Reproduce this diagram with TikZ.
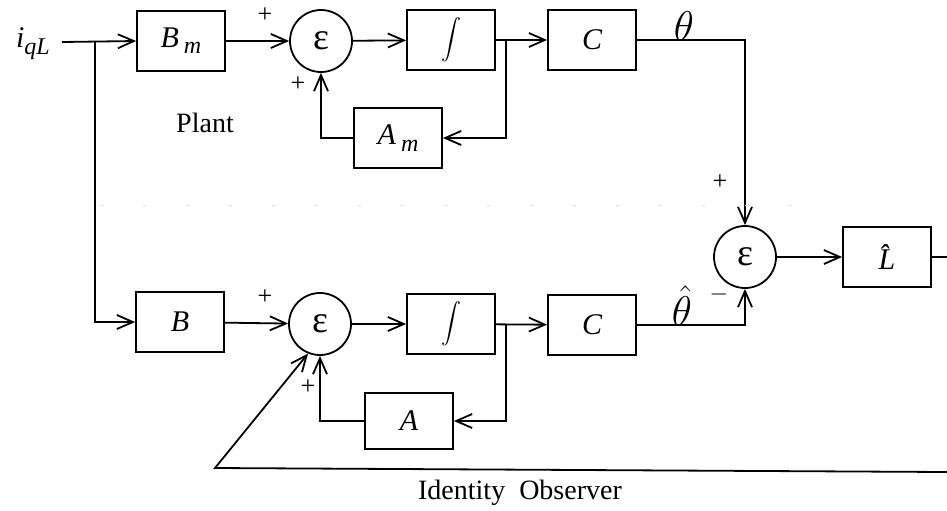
\documentclass[tikz,border=0pt]{standalone}
\usepackage{fontspec}
\setmainfont{Liberation Serif}
\usetikzlibrary{arrows.meta}

\tikzset{
	blk/.style={draw, line width=0.9pt, minimum width=44pt, minimum height=30pt, inner sep=0pt, font=\fontsize{15}{17}\selectfont\itshape},
	sumj/.style={draw, circle, line width=0.9pt, minimum size=31pt, inner sep=0pt, font=\fontsize{19}{19}\selectfont},
	sig/.style={line width=0.9pt, -{Straight Barb[length=8pt,width=7pt]}},
	wire/.style={line width=0.9pt},
	sgn/.style={inner sep=0pt, font=\fontsize{13}{13}\selectfont},
	lbl/.style={inner sep=0pt, font=\fontsize{14}{16}\selectfont}
}
\newcommand{\subm}[1]{#1\,\raisebox{-0.45ex}{\fontsize{12}{12}\selectfont m}}
\newcommand{\integ}{\raisebox{-0.3ex}{$\displaystyle\int$}}

\begin{document}
\begin{tikzpicture}[x=0.5pt,y=0.5pt,yscale=-1,xscale=1]
		\useasboundingbox (0,0) rectangle (947,510);

		% Plant (upper row)
		\node[inner sep=0pt, font=\fontsize{15}{17}\selectfont] (iql) at (33,44) {\textit{i}\raisebox{-0.5ex}{\fontsize{12}{12}\selectfont\itshape qL}};
		\node[blk] (Bm) at (181,41) {\subm{B}};
		\node[sumj] (sum1) at (321,41) {ε};
		\node[blk] (int1) at (451,40) {\integ};
		\node[blk] (C1) at (592,40) {C};
		\node[blk] (Am) at (398,138) {\subm{A}};
		\coordinate (inStart) at (62,42);
		\coordinate (split) at (95,42);
		\coordinate (br1) at (506,40);

		% Observer (lower row)
		\node[blk] (B) at (180,322) {B};
		\node[sumj] (sum2) at (320,324) {ε};
		\node[blk] (int2) at (451,324) {\integ};
		\node[blk] (C2) at (592,325) {C};
		\node[blk, minimum height=28pt] (A) at (409,421) {A};
		\coordinate (br2) at (506,324);

		% Error and gain
		\node[sumj] (sum3) at (745,257) {ε};
		\node[blk] (Lhat) at (887,257) {\^{L}};
		\coordinate (exitR) at (947,257);
		\coordinate (retR) at (947,472);
		\coordinate (corner) at (215,468);

		% Forward paths
		\draw[sig] (inStart) -- (Bm.west);
		\draw[sig] (split) |- (B.west);
		\draw[sig] (Bm) -- (sum1);
		\draw[sig] (sum1) -- (int1);
		\draw[sig] (int1) -- (C1);
		\draw[sig] (B) -- (sum2);
		\draw[sig] (sum2) -- (int2);
		\draw[sig] (int2) -- (C2);

		% Inner loops
		\draw[sig] (br1) |- (Am.east);
		\draw[sig] (Am.west) -| (sum1.south);
		\draw[sig] (br2) |- (A.east);
		\draw[sig] (A.west) -| (sum2.south);

		% Outputs to the error junction
		\draw[sig] (C1.east) -| (sum3.north);
		\draw[sig] (C2.east) -| (sum3.south);
		\draw[sig] (sum3) -- (Lhat);
		\draw[wire] (Lhat.east) -- (exitR);

		% Correction fed back to the observer
		\draw[sig] (retR) -- (corner) -- (sum2.248);

		% Faint separator
		\draw[gray!25, line width=0.5pt, dash pattern=on 1.5pt off 20pt] (100,205) -- (800,205);

		% Signs
		\node[sgn] (p1) at (265,15) {+};
		\node[sgn] (p2) at (298,84) {+};
		\node[sgn] (p3) at (265,297) {+};
		\node[sgn] (p4) at (308,387) {+};
		\node[sgn] (p5) at (720,182) {+};
		\node[sgn] (m1) at (719,294) {$-$};

		% Signal names
		\node[inner sep=0pt, font=\fontsize{20}{20}\selectfont] (th) at (684,26) {$\theta$};
		\node[inner sep=0pt, font=\fontsize{20}{20}\selectfont] (thh) at (682,306) {$\hat{\theta}$};

		% Section names
		\node[lbl] (plant) at (205,123) {Plant};
		\node[lbl] (obs) at (520,493) {Identity\ \ Observer};
	\end{tikzpicture}
\end{document}
